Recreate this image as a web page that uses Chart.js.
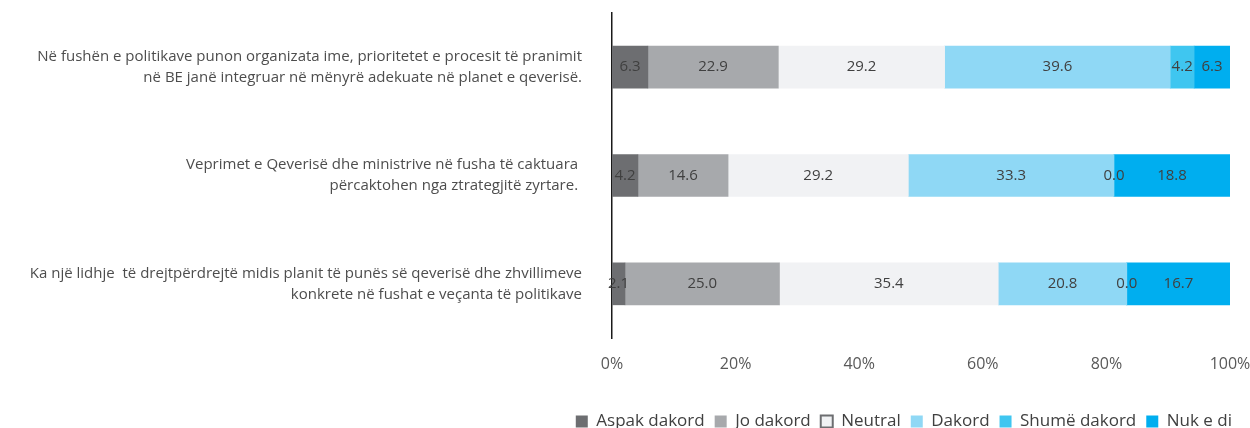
<!DOCTYPE html>
<html>
<head>
<meta charset="utf-8">
<script src="https://cdn.jsdelivr.net/npm/chart.js@4"></script>
<style>
  body { margin: 0; background: #fff; overflow: hidden; }
  #wrap { width: 1250px; height: 440px; }
</style>
</head>
<body>
<div id="wrap"><canvas id="chart"></canvas></div>
<script>
const categories = [
    ["Në fushën e politikave punon organizata ime, prioritetet e procesit të pranimit", "në BE janë integruar në mënyrë adekuate në planet e qeverisë."],
    ["Veprimet e Qeverisë dhe ministrive në fusha të caktuara ", "përcaktohen nga ztrategjitë zyrtare. "],
    ["Ka një lidhje  të drejtpërdrejtë midis planit të punës së qeverisë dhe zhvillimeve", "konkrete në fushat e veçanta të politikave"]
];
const seriesNames = ["Aspak dakord", "Jo dakord", "Neutral", "Dakord", "Shumë dakord", "Nuk e di"];
const aspakDakord = [6.3, 4.2, 2.1];
const joDakord = [22.9, 14.6, 25.0];
const neutral = [29.2, 29.2, 35.4];
const dakord = [39.6, 33.3, 20.8];
const shumeDakord = [4.2, 0.0, 0.0];
const nukEDi = [6.3, 18.8, 16.7];
const xTicks = [0, 20, 40, 60, 80, 100];

const colors = ["#6d6e71", "#a7a9ac", "#f1f2f4", "#8fd8f5", "#3fc6f0", "#00aeef"];
const series = [aspakDakord, joDakord, neutral, dakord, shumeDakord, nukEDi];

// each row is shown as a 100% bar, labels keep the raw values
const rowSums = categories.map((_, i) => series.reduce((s, arr) => s + arr[i], 0));

const valueLabels = {
    id: "valueLabels",
    afterDatasetsDraw(chart) {
        const ctx = chart.ctx;
        ctx.save();
        ctx.font = "15px 'Open Sans'";
        ctx.fillStyle = "#404040";
        ctx.textAlign = "center";
        ctx.textBaseline = "middle";
        chart.data.datasets.forEach((ds, di) => {
            chart.getDatasetMeta(di).data.forEach((bar, i) => {
                const x = (bar.x + bar.base) / 2;
                ctx.fillText(ds.raw[i].toFixed(1), x, bar.y);
            });
        });
        ctx.restore();
    }
};

new Chart(document.getElementById("chart"), {
    type: "bar",
    data: {
        labels: categories,
        datasets: series.map((arr, k) => ({
            label: seriesNames[k],
            raw: arr,
            data: arr.map((v, i) => v / rowSums[i] * 100),
            backgroundColor: colors[k],
            borderWidth: 0,
            barThickness: 42
        }))
    },
    options: {
        indexAxis: "y",
        responsive: true,
        maintainAspectRatio: false,
        animation: false,
        layout: { padding: { top: 13, left: 10, right: 8, bottom: 0 } },
        scales: {
            x: {
                stacked: true,
                min: 0,
                max: 100,
                afterBuildTicks(scale) { scale.ticks = xTicks.map(v => ({ value: v })); },
                afterFit(scale) {
                    scale.height = 65;
                    scale.paddingLeft = 0;
                    scale.paddingRight = 20;
                },
                grid: { display: false },
                border: { display: false },
                ticks: {
                    padding: 9,
                    color: "#595959",
                    font: { family: "'Open Sans'", size: 16 },
                    callback: v => v + "%"
                }
            },
            y: {
                stacked: true,
                afterFit(scale) {
                    scale.width = 602;
                    scale.paddingTop = 0;
                    scale.paddingBottom = 0;
                },
                grid: { display: false },
                border: { display: true, color: "#1a1a1a", width: 1.5 },
                ticks: {
                    padding: 22,
                    color: "#4d4d4d",
                    font: { family: "'Open Sans'", size: 15, lineHeight: 1.4 }
                }
            }
        },
        plugins: {
            tooltip: { enabled: false },
            legend: {
                position: "bottom",
                align: "end",
                labels: {
                    boxWidth: 12,
                    boxHeight: 12,
                    padding: 10,
                    color: "#404040",
                    font: { family: "'Open Sans'", size: 17 },
                    generateLabels(chart) {
                        const items = Chart.defaults.plugins.legend.labels.generateLabels(chart);
                        items.forEach(it => {
                            if (it.text === "Neutral") {
                                it.strokeStyle = "#6d6e71";
                                it.lineWidth = 2;
                            } else {
                                it.lineWidth = 0;
                            }
                        });
                        return items;
                    }
                }
            }
        }
    },
    plugins: [valueLabels]
});
</script>
</body>
</html>
